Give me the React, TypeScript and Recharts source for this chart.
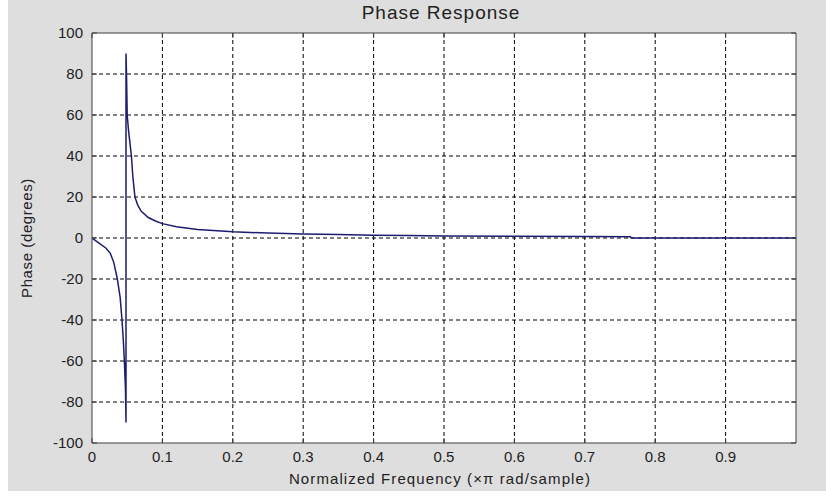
import { CartesianGrid, Line, LineChart, ReferenceLine, XAxis, YAxis } from "recharts";

// normalized frequency (x pi rad/sample) and phase in degrees
const freq = [
  0, 0.01, 0.02, 0.026, 0.031, 0.036, 0.04, 0.0426, 0.0445, 0.046, 0.0475, 0.0483,
  0.0483, 0.049, 0.05, 0.052, 0.054, 0.056, 0.058, 0.061, 0.065, 0.07, 0.08, 0.09,
  0.1, 0.12, 0.15, 0.2, 0.25, 0.3, 0.35, 0.4, 0.45, 0.5, 0.6, 0.7, 0.765, 0.766, 1.0,
];
const phase = [
  0, -2.5, -5, -7.5, -12, -20, -29, -40, -50, -60, -73, -90,
  90, 80, 60, 52, 46, 40, 30, 20, 16, 13, 10, 8.3,
  7, 5.5, 4.2, 3, 2.4, 2, 1.7, 1.4, 1.2, 1.0, 0.8, 0.7, 0.6, 0, 0,
];

const xTicks = [0, 0.1, 0.2, 0.3, 0.4, 0.5, 0.6, 0.7, 0.8, 0.9];
const yTicks = [-100, -80, -60, -40, -20, 0, 20, 40, 60, 80, 100];

const data = freq.map((f, i) => ({ f, p: phase[i] }));

const FONT = "'Liberation Sans', Arial, sans-serif";
const LABEL = "#222";
const BOX = "#404040";
const PLOT_W = 704;
const PLOT_H = 410;

// MATLAB style: tick marks point inward, on both the bottom and the top frame edge
const BottomTick = (props: any) => {
  const { x, y, payload } = props;
  const axisY = y - 8;
  return (
    <g>
      <line x1={x} y1={axisY} x2={x} y2={axisY - 5} stroke={BOX} />
      <line x1={x} y1={axisY - PLOT_H} x2={x} y2={axisY - PLOT_H + 5} stroke={BOX} />
      <text x={x} y={y} dy="0.71em" textAnchor="middle" fill={LABEL} fontSize={15} fontFamily={FONT}>
        {payload.value}
      </text>
    </g>
  );
};

const LeftTick = (props: any) => {
  const { x, y, payload } = props;
  const axisX = x + 9;
  return (
    <g>
      <line x1={axisX} y1={y} x2={axisX + 5} y2={y} stroke={BOX} />
      <line x1={axisX + PLOT_W} y1={y} x2={axisX + PLOT_W - 5} y2={y} stroke={BOX} />
      <text x={x} y={y} dy="0.35em" textAnchor="end" fill={LABEL} fontSize={15} fontFamily={FONT}>
        {payload.value}
      </text>
    </g>
  );
};

export default function App() {
  return (
    <div style={{ position: "absolute", left: 0, top: 0, width: 826, height: 498, background: "#fff", overflow: "hidden" }}>
      <div style={{ position: "absolute", left: 8, top: 0, width: 818, height: 491, background: "#dedede" }} />
      <div style={{ position: "absolute", left: 0, top: 0 }}>
        <LineChart width={826} height={498} data={data} margin={{ top: 33, right: 30, bottom: 25, left: 0 }}>
          <CartesianGrid
            stroke="#000"
            strokeDasharray="4 3"
            strokeWidth={1}
            fill="#fff"
            fillOpacity={1}
            horizontalValues={yTicks.slice(1, -1)}
            verticalValues={xTicks.slice(1)}
          />
          <XAxis
            dataKey="f"
            type="number"
            domain={[0, 1]}
            ticks={xTicks}
            height={30}
            tickSize={0}
            tickMargin={8}
            tickLine={false}
            axisLine={{ stroke: BOX }}
            tick={<BottomTick />}
            interval={0}
            allowDataOverflow
          />
          <YAxis
            type="number"
            domain={[-100, 100]}
            ticks={yTicks}
            width={92}
            tickSize={0}
            tickMargin={9}
            tickLine={false}
            axisLine={{ stroke: BOX }}
            tick={<LeftTick />}
            interval={0}
            allowDataOverflow
          />
          <ReferenceLine y={100} stroke={BOX} strokeWidth={1} ifOverflow="extendDomain" />
          <ReferenceLine x={1} stroke={BOX} strokeWidth={1} ifOverflow="extendDomain" />
          <Line
            type="linear"
            dataKey="p"
            stroke="#1c1c70"
            strokeWidth={1.5}
            dot={false}
            isAnimationActive={false}
          />
        </LineChart>
      </div>
      <div
        style={{
          position: "absolute",
          left: 0,
          width: 882,
          top: 2,
          textAlign: "center",
          fontFamily: FONT,
          fontSize: 19,
          letterSpacing: 1,
          color: "#222",
          lineHeight: "22px",
        }}
      >
        Phase Response
      </div>
      <div
        style={{
          position: "absolute",
          left: 0,
          width: 880,
          top: 470,
          textAlign: "center",
          fontFamily: FONT,
          fontSize: 15,
          letterSpacing: 1.1,
          color: "#222",
          lineHeight: "18px",
        }}
      >
        Normalized Frequency (×π rad/sample)
      </div>
      <div
        style={{
          position: "absolute",
          left: 27,
          top: 238,
          transform: "translate(-50%, -50%) rotate(-90deg)",
          fontFamily: FONT,
          fontSize: 15,
          letterSpacing: 0.6,
          color: "#222",
          whiteSpace: "nowrap",
          lineHeight: "18px",
        }}
      >
        Phase (degrees)
      </div>
    </div>
  );
}
